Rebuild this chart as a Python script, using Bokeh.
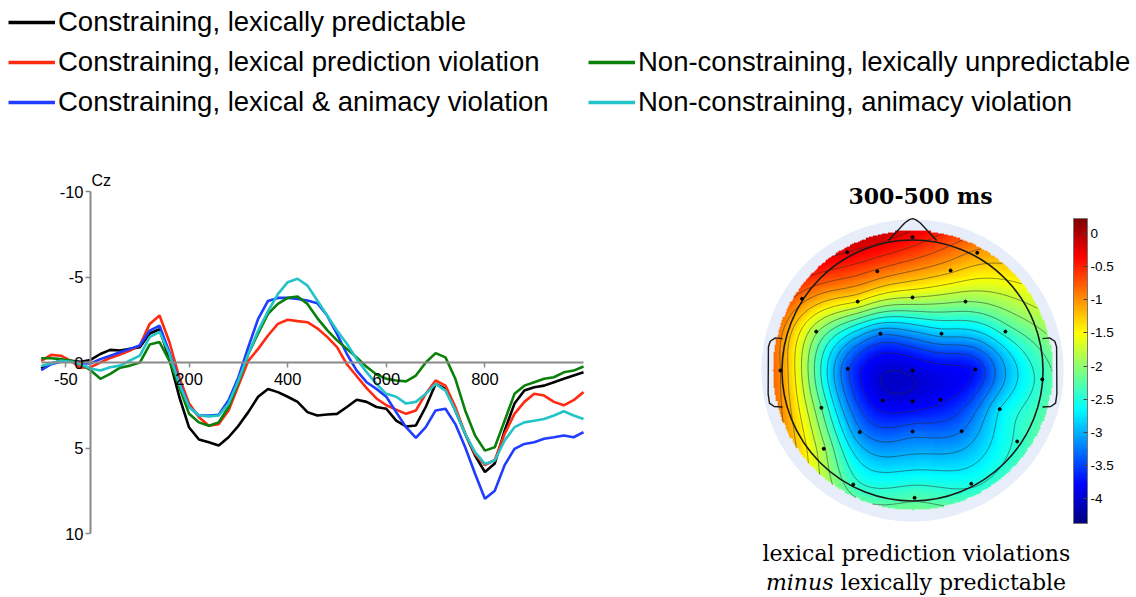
import numpy as np
from bokeh.plotting import figure
from bokeh.models import (Range1d, FixedTicker, Legend, LegendItem, Label,
                          LinearColorMapper, ColorBar)
from bokeh.layouts import column, row
from bokeh.embed import file_html
from bokeh.resources import INLINE

# ---------------- ERP data (µV at Cz, negative plotted up) ----------------
time_ms = [-100, -80, -60, -40, -20, 0, 20, 40, 60, 80, 100, 120, 140, 160, 180,
           200, 220, 240, 260, 280, 300, 320, 340, 360, 380, 400, 420, 440, 460,
           480, 500, 520, 540, 560, 580, 600, 620, 640, 660, 680, 700, 720, 740,
           760, 780, 800, 820, 840, 860, 880, 900, 920, 940, 960, 980, 1000]

lex_predictable = [0.35, 0.05, -0.1, -0.1, -0.05, -0.15, -0.5, -0.74, -0.7, -0.8, -0.9, -1.7, -1.95, -0.2, 2.0,
                   3.8, 4.5, 4.66, 4.85, 4.37, 3.7, 2.9, 2.0, 1.55, 1.73, 2.0, 2.3, 2.9, 3.1,
                   3.04, 3.0, 2.6, 2.18, 2.3, 2.6, 2.7, 3.4, 3.74, 3.68, 2.6, 1.25, 1.54, 2.8,
                   4.17, 5.44, 6.4, 5.9, 3.98, 2.4, 1.64, 1.44, 1.35, 1.15, 0.95, 0.76, 0.57]

lex_violation = [-0.1, -0.45, -0.4, -0.1, 0.3, 0.27, 0.0, -0.27, -0.47, -0.7, -1.0, -2.26, -2.75, -1.2, 0.86,
                 2.4, 3.2, 3.7, 3.6, 2.8, 1.35, -0.1, -0.8, -1.58, -2.26, -2.5, -2.42, -2.36, -2.0,
                 -1.5, -0.9, 0.1, 0.8, 1.5, 2.1, 2.5, 2.75, 3.0, 2.8, 1.83, 1.05, 1.35, 2.6,
                 4.17, 5.34, 6.0, 5.7, 4.17, 3.0, 2.3, 1.83, 1.93, 2.3, 2.5, 2.2, 1.73]

lex_anim_violation = [0.45, 0.1, -0.05, -0.1, 0.05, 0.05, -0.2, -0.4, -0.6, -0.8, -1.0, -1.87, -2.15, -0.6, 1.15,
                      2.6, 3.1, 3.1, 3.05, 2.2, 0.86, -0.9, -2.55, -3.6, -3.78, -3.78, -3.72, -3.63, -3.47,
                      -2.75, -1.68, -0.5, 0.47, 1.15, 1.54, 2.0, 2.9, 3.78, 4.4, 3.78, 2.8, 2.7, 3.6,
                      4.95, 6.5, 7.97, 7.5, 6.0, 5.05, 4.76, 4.66, 4.46, 4.37, 4.27, 4.37, 4.07]

noncon_unpredictable = [-0.25, -0.25, -0.2, -0.1, 0.1, 0.45, 0.95, 0.66, 0.3, 0.18, 0.0, -1.05, -1.2, -0.1, 1.44,
                        3.0, 3.5, 3.7, 3.5, 2.6, 1.15, -0.5, -1.7, -2.85, -3.43, -3.78, -3.86, -3.43, -2.6,
                        -1.9, -1.3, -0.8, -0.3, 0.25, 0.7, 0.95, 1.05, 1.1, 0.76, 0.0, -0.55, -0.3, 0.95,
                        2.8, 4.27, 5.15, 4.95, 3.4, 1.83, 1.35, 1.15, 0.95, 0.86, 0.57, 0.47, 0.23]

noncon_animacy = [0.2, 0.05, -0.1, -0.05, 0.1, 0.35, 0.47, 0.27, 0.18, -0.12, -0.4, -1.48, -1.8, -0.5, 1.25,
                  2.6, 3.1, 3.15, 3.1, 2.4, 1.05, -0.5, -1.87, -3.0, -4.0, -4.7, -4.9, -4.5, -3.63,
                  -2.75, -1.87, -1.1, -0.2, 0.56, 1.25, 1.83, 2.0, 2.4, 2.3, 1.83, 1.25, 1.64, 2.8,
                  4.17, 5.24, 5.93, 5.73, 4.56, 3.78, 3.5, 3.4, 3.3, 3.1, 2.85, 3.1, 3.3]

series_names = ["Constraining, lexically predictable",
                "Constraining, lexical prediction violation",
                "Constraining, lexical & animacy violation",
                "Non-constraining, lexically unpredictable",
                "Non-constraining, animacy violation"]
series_values = [lex_predictable, lex_violation, lex_anim_violation,
                 noncon_unpredictable, noncon_animacy]
series_colors = ["#000000", "#ff2a12", "#1f3cff", "#0a800a", "#22c4c8"]

x_ticks = [-50, 200, 400, 600, 800]
y_ticks = [-10, -5, 0, 5, 10]

# ---------------- Topography data (difference wave, 300-500 ms) ----------------
elec_x = [0.0, -0.25, 0.248, -0.135, 0.146, -0.423, -0.21, 0.0, 0.203, -0.369, -0.123,
          0.111, 0.356, -0.506, -0.248, 0.0, 0.241, 0.497, -0.114, 0.0, 0.107, -0.349,
          0.334, -0.202, 0.0, 0.188, 0.401, -0.34, -0.227, 0.225, 0.008]
elec_y = [0.511, 0.453, 0.451, 0.38, 0.383, 0.275, 0.264, 0.28, 0.264, 0.149, 0.141,
          0.141, 0.149, 0.0, 0.007, 0.0, 0.004, -0.034, -0.115, -0.118, -0.112, -0.143,
          -0.148, -0.236, -0.234, -0.233, -0.272, -0.30, -0.437, -0.434, -0.488]
elec_v = [-0.35, -0.25, -1.05, -0.8, -1.2, -0.9, -1.5, -1.75, -2.0, -1.95, -3.2,
          -2.9, -2.4, -1.0, -3.45, -3.95, -3.7, -2.4, -3.9, -3.9, -3.8, -2.25,
          -2.75, -3.2, -3.35, -3.25, -2.45, -1.95, -2.4, -2.55, -2.3]
cbar_ticks = [-4, -3.5, -3, -2.5, -2, -1.5, -1, -0.5, 0]
cbar_low, cbar_high = -4.38, 0.23

# head outline (head radius 0.5)
nose_x = [-0.092, -0.03, -0.012, 0.0, 0.012, 0.03, 0.092]
nose_y = [0.498, 0.565, 0.578, 0.582, 0.578, 0.565, 0.498]
ear_x = [0.498, 0.525, 0.545, 0.552, 0.553, 0.548, 0.53, 0.498]
ear_y = [0.122, 0.125, 0.112, 0.09, -0.09, -0.125, -0.138, -0.14]

FONT = "Liberation Sans"
SERIF = "DejaVu Serif"

# ---------------- Legend strip ----------------
leg = figure(width=1136, height=150, x_range=Range1d(0, 1), y_range=Range1d(0, 1),
             output_backend="svg", toolbar_location=None, min_border=0,
             x_axis_location=None, y_axis_location=None, outline_line_color=None)
leg.grid.visible = False
dummy = [leg.line(x=[np.nan], y=[np.nan], color=c, line_width=3.5) for c in series_colors]


def make_legend(idx, loc):
    lg = Legend(items=[LegendItem(label=series_names[i], renderers=[dummy[i]]) for i in idx],
                location=loc, orientation="vertical", padding=0, margin=0, spacing=8,
                glyph_width=47, glyph_height=30, label_height=30, label_standoff=3,
                label_text_font=FONT, label_text_font_size="27.5px", label_text_color="#000000",
                border_line_color=None, background_fill_alpha=0)
    leg.add_layout(lg, "center")


make_legend([0, 1, 2], (8, 32))
make_legend([3, 4], (588, 32))

# ---------------- ERP plot ----------------
erp = figure(width=640, height=447, x_range=Range1d(-182.6, 1115.6),
             y_range=Range1d(13.74, -12.4), output_backend="svg",
             toolbar_location=None, min_border=0, outline_line_color=None)
erp.grid.visible = False
for vals, col in zip(series_values, series_colors):
    erp.line(time_ms, vals, color=col, line_width=2.6)

xa = erp.xaxis[0]
xa.fixed_location = 0
xa.bounds = (-100, 1000)
xa.ticker = FixedTicker(ticks=x_ticks)
xa.major_label_overrides = {t: str(t) for t in x_ticks}
ya = erp.yaxis[0]
ya.fixed_location = 0
ya.bounds = (-10, 10)
ya.ticker = FixedTicker(ticks=y_ticks)
ya.major_label_overrides = {t: str(t) for t in y_ticks}
for ax in (xa, ya):
    ax.axis_line_color = "#8a8a8a"
    ax.axis_line_width = 2
    ax.major_tick_line_color = "#8a8a8a"
    ax.major_tick_line_width = 1.5
    ax.major_tick_in = 0
    ax.major_tick_out = 5
    ax.minor_tick_line_color = None
    ax.major_label_text_font = FONT
    ax.major_label_text_color = "#000000"
xa.major_label_text_font_size = "16.5px"
ya.major_label_text_font_size = "16.5px"
xa.major_label_standoff = 5
ya.major_label_standoff = 2

erp.add_layout(Label(x=0, y=-10, text="Cz", text_font=FONT, text_font_size="16px",
                     text_color="#000000", text_baseline="bottom", text_align="left",
                     x_offset=1, y_offset=3))

# ---------------- Topography ----------------
topo = figure(width=496, height=447, x_range=Range1d(-1.042, 0.858),
              y_range=Range1d(-0.870, 0.843), output_backend="svg",
              toolbar_location=None, min_border=0, outline_line_color=None,
              x_axis_location=None, y_axis_location=None)
topo.grid.visible = False

R_MAP = 0.536
N = 241
ex, ey, ev = np.array(elec_x), np.array(elec_y), np.array(elec_v)


def green(d):
    g = np.zeros_like(d)
    nz = d > 0
    g[nz] = d[nz] ** 2 * (np.log(d[nz]) - 1.0)
    return g


D = np.hypot(ex[:, None] - ex[None, :], ey[:, None] - ey[None, :])
w = np.linalg.solve(green(D), ev)
g = np.linspace(-R_MAP, R_MAP, N)
GX, GY = np.meshgrid(g, g)
Dg = np.hypot(GX.ravel()[:, None] - ex[None, :], GY.ravel()[:, None] - ey[None, :])
Z = (green(Dg) @ w).reshape(N, N)
Z[np.hypot(GX, GY) > R_MAP] = np.nan

jet = []
for i in range(256):
    s = i / 255.0
    r = min(max(1.5 - abs(4 * s - 3), 0), 1)
    gg = min(max(1.5 - abs(4 * s - 2), 0), 1)
    b = min(max(1.5 - abs(4 * s - 1), 0), 1)
    jet.append("#%02x%02x%02x" % (int(r * 255), int(gg * 255), int(b * 255)))

mapper = LinearColorMapper(palette=jet, low=cbar_low, high=cbar_high, nan_color="#00000000")

topo.circle(x=[0], y=[0], radius=0.579, fill_color="#e7eefa", line_color=None)
topo.image(image=[Z.astype(np.float32)], x=-R_MAP, y=-R_MAP, dw=2 * R_MAP, dh=2 * R_MAP,
           color_mapper=mapper)
levels = list(np.arange(-4.25, 0.01, 0.25))
topo.contour(g, g, np.ma.masked_invalid(Z), levels, line_color="#2a2a2a",
             line_alpha=0.6, line_width=0.9)
topo.circle(x=[0], y=[0], radius=0.5, fill_color=None, line_color="#1a1a1a", line_width=1.6)
topo.line(nose_x, nose_y, line_color="#1a1a1a", line_width=1.4)
topo.line([-v for v in ear_x], ear_y, line_color="#1a1a1a", line_width=1.4)
topo.line(ear_x, ear_y, line_color="#1a1a1a", line_width=1.4)
topo.scatter(elec_x, elec_y, size=3, color="#000000")

cb = ColorBar(color_mapper=mapper, ticker=FixedTicker(ticks=cbar_ticks),
              major_label_overrides={t: ("%g" % t) for t in cbar_ticks},
              width=14, height=305, location=(433, 74), padding=0,
              bar_line_color="#777777", major_tick_line_color="#444444",
              major_tick_in=4, major_tick_out=0, minor_tick_line_color=None,
              label_standoff=3, major_label_text_font=FONT,
              major_label_text_font_size="13.5px", major_label_text_color="#000000",
              border_line_color=None, background_fill_alpha=0)
topo.add_layout(cb, "center")

topo.add_layout(Label(x=0.031, y=0.67, text="300-500 ms", text_font=SERIF,
                      text_font_style="bold", text_font_size="22px", text_color="#000000",
                      text_align="center", text_baseline="middle"))
topo.add_layout(Label(x=0.015, y=-0.70, text="lexical prediction violations", text_font=SERIF,
                      text_font_size="22px", text_color="#000000",
                      text_align="center", text_baseline="middle"))
topo.add_layout(Label(x=-0.303, y=-0.812, text="minus", text_font=SERIF, text_font_style="italic",
                      text_font_size="22px", text_color="#000000",
                      text_align="right", text_baseline="middle"))
topo.add_layout(Label(x=-0.276, y=-0.812, text="lexically predictable", text_font=SERIF,
                      text_font_size="22px", text_color="#000000",
                      text_align="left", text_baseline="middle"))

page = column(leg, row(erp, topo))
open("out.html", "w").write(file_html(page, INLINE))
